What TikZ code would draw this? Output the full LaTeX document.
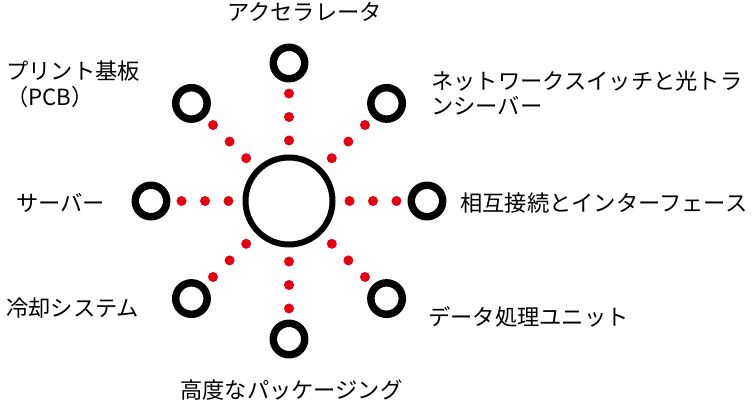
\documentclass[tikz,border=0pt]{standalone}
\usepackage{fontspec}
\newfontfamily\jpfont{Noto Sans CJK JP}
\definecolor{dotred}{HTML}{E60012}
\begin{document}
\begin{tikzpicture}[x=0.75pt,y=-0.75pt,
	hub/.style={circle,draw,line width=4.5pt,minimum size=65.25pt,inner sep=0},
	sat/.style={circle,draw,line width=5.6pt,minimum size=23.6pt,inner sep=0},
	link/.style={dotred,line width=7.5pt,line cap=round,dash pattern=on 0pt off 17.6pt,
		shorten <=45.4pt,shorten >=18pt},
	lbl/.style={font=\jpfont\fontsize{16.7pt}{19pt}\selectfont,inner sep=0,align=left,anchor=base west}]
\useasboundingbox (0,0) rectangle (755,409);
\node[hub] (hub) at (289,201) {};
\foreach \i/\a in {1/0,2/45,3/90,4/135,5/180,6/225,7/270,8/315}{
	\node[sat] (sat\i) at ([shift={(\a:138)}]hub.center) {};
	\draw[link] (hub.center) -- (sat\i.center);
}
% labels (base anchor is on the last line)
\node[lbl] (accl) at (227,20.2) {アクセラレータ};
\node[lbl] (netl) at (431,114.5) {ネットワークスイッチと光トラ\\ンシーバー};
\node[lbl] (icl) at (460,211.2) {相互接続とインターフェース};
\node[lbl] (dpul) at (428,325.2) {データ処理ユニット};
\node[lbl] (pkgl) at (180,398.2) {高度なパッケージング};
\node[lbl] (cooll) at (6,316.2) {冷却システム};
\node[lbl] (srvl) at (16,211.2) {サーバー};
\node[lbl] (pcbl) at (6,105.2) {プリント基板\\（PCB）};
\end{tikzpicture}
\end{document}
